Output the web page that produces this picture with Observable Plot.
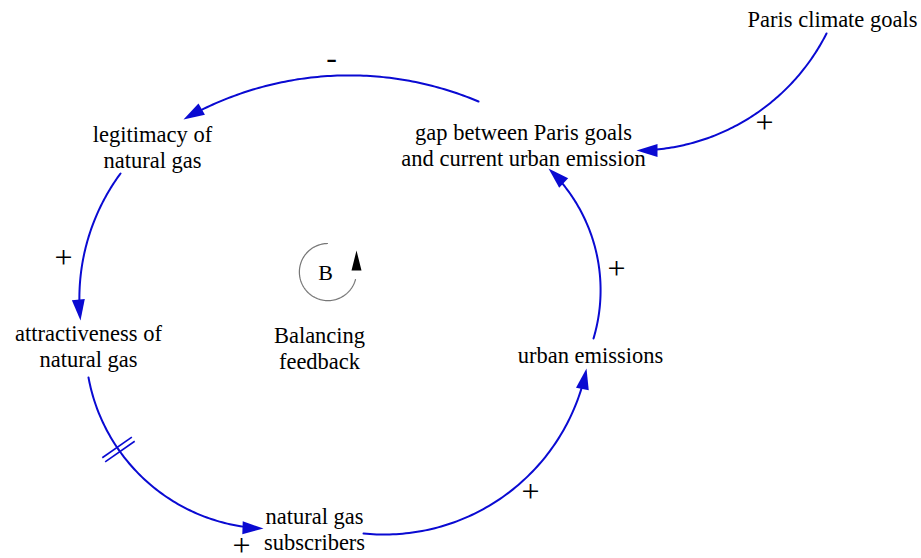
<!DOCTYPE html>
<html><head><meta charset="utf-8">
<script src="https://cdn.jsdelivr.net/npm/d3@7"></script>
<script src="https://cdn.jsdelivr.net/npm/@observablehq/plot@0.6"></script>
<style>html,body{margin:0;padding:0;background:#fff;overflow:hidden}</style>
</head><body><div id="chart"></div>
<script>
// ---- Data: causal loop diagram ----
const variables = [
  "Paris climate goals",
  "gap between Paris goals\nand current urban emission",
  "legitimacy of\nnatural gas",
  "attractiveness of\nnatural gas",
  "natural gas\nsubscribers",
  "urban emissions"
];
// layout of the diagram (diagram coordinates)
const variableX = [832, 523, 152, 88, 314, 590];
const variableY = [18, 144, 146, 345, 528, 354];

// causal links: from -> to, polarity, delay
const linkFrom     = [1, 2, 3, 4, 5, 0];
const linkTo       = [2, 3, 4, 5, 1, 1];
const linkPolarity = ["-", "+", "+", "+", "+", "+"];
const linkDelay    = [false, false, true, false, false, false];
// arc route of each link: start, a point passed through, arrow tip
const linkStart = [[478, 101], [120, 173], [88, 377], [363, 533], [593, 338], [826, 33]];
const linkVia   = [[340, 75],  [82, 262],  [118, 449], [533, 470], [580, 210], [760, 110]];
const linkTip   = [[183, 119], [80, 320],  [263, 528], [586, 368], [548, 168], [636, 150]];
// polarity label placement
const polarityX = [331, 63, 241, 530, 616, 764];
const polarityY = [57, 257, 545, 491, 268, 122];

// loop identifier
const loopLetter = "B";
const loopCaption = "Balancing\nfeedback";
const loopX = 325, loopY = 272;
const loopArcStart = [327, 243], loopArcVia = [330, 300], loopArcEnd = [355, 279];
const loopTip = [356, 250];
const captionX = 319, captionY = 347;

// ---- geometry helpers ----
const TAU = 2 * Math.PI;
const norm = a => ((a % TAU) + TAU) % TAU;
function arc3(p1, p2, p3, trimEnd, n = 90) {
  const [x1, y1] = p1, [x2, y2] = p2, [x3, y3] = p3;
  const d = 2 * (x1 * (y2 - y3) + x2 * (y3 - y1) + x3 * (y1 - y2));
  const s1 = x1 * x1 + y1 * y1, s2 = x2 * x2 + y2 * y2, s3 = x3 * x3 + y3 * y3;
  const cx = (s1 * (y2 - y3) + s2 * (y3 - y1) + s3 * (y1 - y2)) / d;
  const cy = (s1 * (x3 - x2) + s2 * (x1 - x3) + s3 * (x2 - x1)) / d;
  const r = Math.hypot(x1 - cx, y1 - cy);
  const a1 = Math.atan2(y1 - cy, x1 - cx);
  const a2 = Math.atan2(y2 - cy, x2 - cx);
  const a3 = Math.atan2(y3 - cy, x3 - cx);
  const d13 = norm(a3 - a1), d12 = norm(a2 - a1);
  const delta = d12 < d13 ? d13 : d13 - TAU;
  const s = Math.sign(delta);
  const aEnd = a1 + delta - s * trimEnd / r;
  const pts = [];
  for (let i = 0; i <= n; i++) {
    const a = a1 + (aEnd - a1) * i / n;
    pts.push([cx + r * Math.cos(a), cy + r * Math.sin(a)]);
  }
  const tangentAt = a => [-Math.sin(a) * s, Math.cos(a) * s];
  return {pts, cx, cy, r, a2, a3, tangentAt};
}
const angleOf = ([tx, ty]) => Math.atan2(tx, -ty) * 180 / Math.PI;

// ---- build mark data ----
const nodes = variables.map((t, i) => ({text: t, x: variableX[i], y: variableY[i]}));
const arcPts = [], heads = [], delays = [];
linkFrom.forEach((f, i) => {
  const g = arc3(linkStart[i], linkVia[i], linkTip[i], 10);
  g.pts.forEach(([x, y]) => arcPts.push({id: i, x, y}));
  heads.push({x: linkTip[i][0], y: linkTip[i][1], angle: angleOf(g.tangentAt(g.a3))});
  if (linkDelay[i]) {
    const [tx, ty] = g.tangentAt(g.a2);
    const [nx, ny] = [Math.cos(g.a2), Math.sin(g.a2)];
    for (const o of [-2.5, 2.5]) {
      const px = linkVia[i][0] + tx * o, py = linkVia[i][1] + ty * o;
      delays.push({x1: px - nx * 18, y1: py - ny * 18, x2: px + nx * 18, y2: py + ny * 18});
    }
  }
});
const signs = linkPolarity.map((p, i) => ({text: p, x: polarityX[i], y: polarityY[i]}));
const loopArc = arc3(loopArcStart, loopArcVia, loopArcEnd, 0).pts.map(([x, y]) => ({x, y}));

const blue = "#0a0ad2";
const headSymbol = {draw(ctx) { ctx.moveTo(0, 0); ctx.lineTo(-6.5, 21); ctx.lineTo(6.5, 21); ctx.closePath(); }};
const loopHead = {draw(ctx) { ctx.moveTo(0, 0); ctx.lineTo(-5, 20); ctx.lineTo(5, 20); ctx.closePath(); }};
const serif = "'Liberation Serif', 'Times New Roman', serif";

const chart = Plot.plot({
  width: 921, height: 558,
  margin: 0,
  x: {domain: [0, 921], range: [0, 921], axis: null},
  y: {domain: [0, 558], range: [0, 558], axis: null},
  style: {background: "white"},
  marks: [
    Plot.line(arcPts, {x: "x", y: "y", z: "id", stroke: blue, strokeWidth: 2, curve: "linear"}),
    Plot.dot(heads, {x: "x", y: "y", rotate: "angle", symbol: headSymbol, fill: blue, stroke: "none"}),
    Plot.link(delays, {x1: "x1", y1: "y1", x2: "x2", y2: "y2", stroke: blue, strokeWidth: 1.6}),
    Plot.line(loopArc, {x: "x", y: "y", stroke: "#777", strokeWidth: 1.2}),
    Plot.dot([{x: loopTip[0], y: loopTip[1]}], {x: "x", y: "y", symbol: loopHead, fill: "black", stroke: "none"}),
    Plot.text([{t: loopLetter}], {x: () => loopX, y: () => loopY, text: "t", fontSize: 22, fontFamily: serif, fill: "black"}),
    Plot.text([{t: loopCaption}], {x: () => captionX, y: () => captionY, text: "t", fontSize: 22.5, fontFamily: serif, lineHeight: 1.15, fill: "black"}),
    Plot.text(nodes, {x: "x", y: "y", text: "text", fontSize: 22.5, fontFamily: serif, lineHeight: 1.17, fill: "black"}),
    Plot.text(signs, {x: "x", y: "y", text: "text", fontSize: 32, fontFamily: serif, fill: "black"})
  ]
});
document.getElementById("chart").appendChild(chart);
</script>
</body></html>
